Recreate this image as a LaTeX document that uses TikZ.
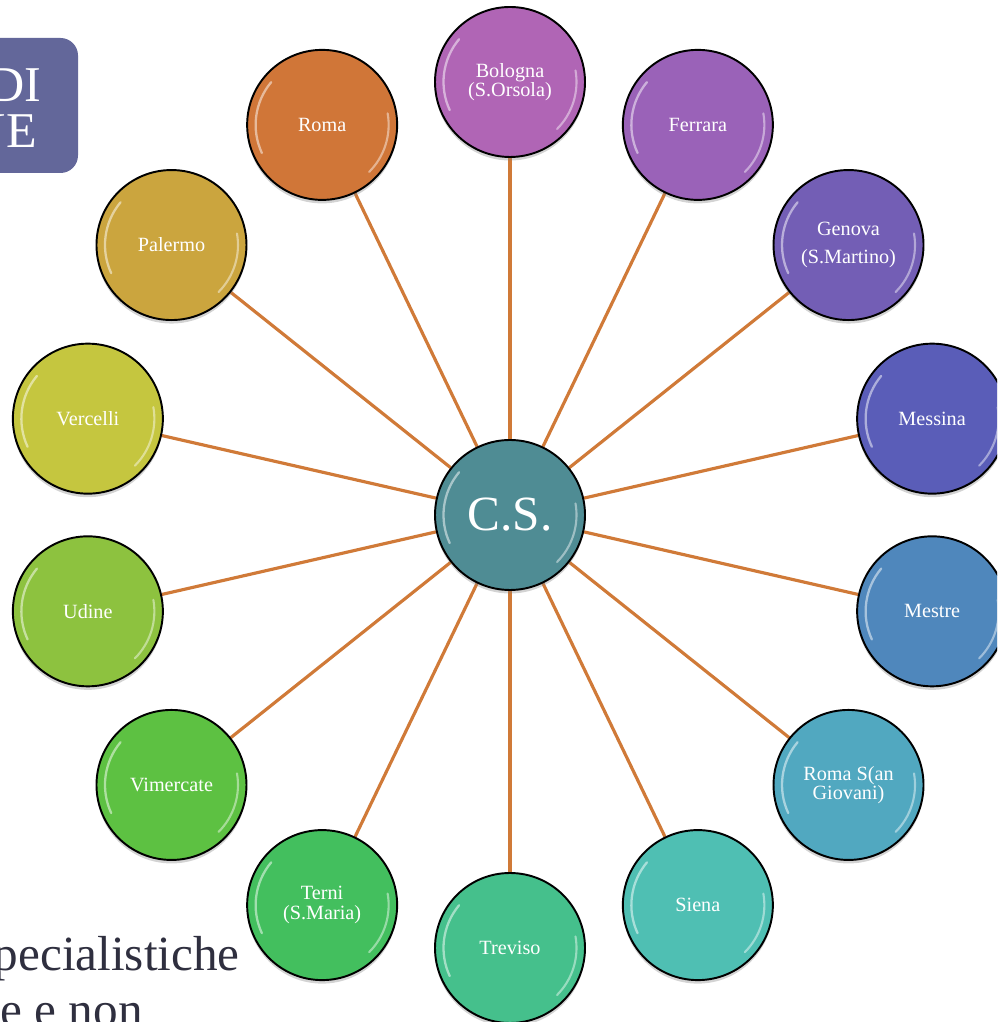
\documentclass[tikz,border=0pt]{standalone}
\usepackage{fontspec}
\setmainfont{Liberation Serif}
\usetikzlibrary{shadows,backgrounds}
\definecolor{cBologna}{HTML}{B065B5}
\definecolor{cFerrara}{HTML}{9A62B8}
\definecolor{cGenova}{HTML}{735EB5}
\definecolor{cMessina}{HTML}{5A5DB8}
\definecolor{cMestre}{HTML}{4F87BC}
\definecolor{cRomaS}{HTML}{51A8C0}
\definecolor{cSiena}{HTML}{4FBFB3}
\definecolor{cTreviso}{HTML}{45C08C}
\definecolor{cTerni}{HTML}{43BF5E}
\definecolor{cVimercate}{HTML}{5DC142}
\definecolor{cUdine}{HTML}{8DC23F}
\definecolor{cVercelli}{HTML}{C5C63F}
\definecolor{cPalermo}{HTML}{CBA53E}
\definecolor{cRoma}{HTML}{D07638}
\definecolor{cCS}{HTML}{4F8C94}
\definecolor{cLink}{HTML}{D07A38}
\definecolor{cBox}{HTML}{63679A}
\definecolor{cText}{HTML}{2F2F3F}
\tikzset{
  ball/.style={circle, draw=black, line width=1.1pt, minimum size=3cm, inner sep=0pt,
    text=white, align=center, font=\fontsize{11.5}{11}\selectfont,
    drop shadow={opacity=0.35, shadow xshift=0pt, shadow yshift=-2pt},
    path picture={
      \draw[white, opacity=0.5, line width=1.3pt, line cap=round]
        (path picture bounding box.center) ++(140:1.33cm) arc[start angle=140, end angle=205, radius=1.33cm];
      \draw[white, opacity=0.45, line width=1.2pt, line cap=round]
        (path picture bounding box.center) ++(-45:1.33cm) arc[start angle=-45, end angle=10, radius=1.33cm];
    }},
  link/.style={draw=cLink, line width=1.8pt},
  bigtext/.style={anchor=base east, inner sep=0pt, font=\fontsize{28}{30}\selectfont},
}
\begin{document}
\begin{tikzpicture}
\useasboundingbox (0,0) rectangle (19.94,20.44);
\clip (0,0) rectangle (19.94,20.44);
% top-left box
\fill[cBox, rounded corners=0.35cm] (-0.6,16.98) rectangle (1.56,19.68);
\node[bigtext, text=white, font=\fontsize{28.5}{30}\selectfont] (di) at (0.84,18.4) {DI};
\node[bigtext, text=white, font=\fontsize{28.5}{30}\selectfont] (ne) at (0.74,17.48) {NE};
% bottom-left text
\node[bigtext, text=cText] (t1) at (4.8,1.04) {pecialistiche};
\node[bigtext, text=cText] (t2) at (2.86,-0.08) {e e non};
% center
\node[ball, fill=cCS, font=\fontsize{28}{30}\selectfont] (cs) at (10.2,10.14) {C.S.};
\def\R{8.66cm}
\node[ball, fill=cBologna]  (n1)  at ([shift={(90:\R)}]cs.center) {Bologna\\(S.Orsola)};
\node[ball, fill=cFerrara]  (n2)  at ([shift={(64.286:\R)}]cs.center) {Ferrara};
\node[ball, fill=cGenova, font=\fontsize{11.5}{15.5}\selectfont] (n3) at ([shift={(38.571:\R)}]cs.center) {Genova\\(S.Martino)};
\node[ball, fill=cMessina]  (n4)  at ([shift={(12.857:\R)}]cs.center) {Messina};
\node[ball, fill=cMestre]   (n5)  at ([shift={(-12.857:\R)}]cs.center) {Mestre};
\node[ball, fill=cRomaS]    (n6)  at ([shift={(-38.571:\R)}]cs.center) {Roma S(an\\Giovani)};
\node[ball, fill=cSiena]    (n7)  at ([shift={(-64.286:\R)}]cs.center) {Siena};
\node[ball, fill=cTreviso]  (n8)  at ([shift={(-90:\R)}]cs.center) {Treviso};
\node[ball, fill=cTerni]    (n9)  at ([shift={(-115.714:\R)}]cs.center) {Terni\\(S.Maria)};
\node[ball, fill=cVimercate] (n10) at ([shift={(-141.429:\R)}]cs.center) {Vimercate};
\node[ball, fill=cUdine]    (n11) at ([shift={(-167.143:\R)}]cs.center) {Udine};
\node[ball, fill=cVercelli] (n12) at ([shift={(167.143:\R)}]cs.center) {Vercelli};
\node[ball, fill=cPalermo]  (n13) at ([shift={(141.429:\R)}]cs.center) {Palermo};
\node[ball, fill=cRoma]     (n14) at ([shift={(115.714:\R)}]cs.center) {Roma};
\begin{scope}[on background layer]
\foreach \i in {1,...,14} { \draw[link] (cs) -- (n\i); }
\end{scope}
\end{tikzpicture}
\end{document}
